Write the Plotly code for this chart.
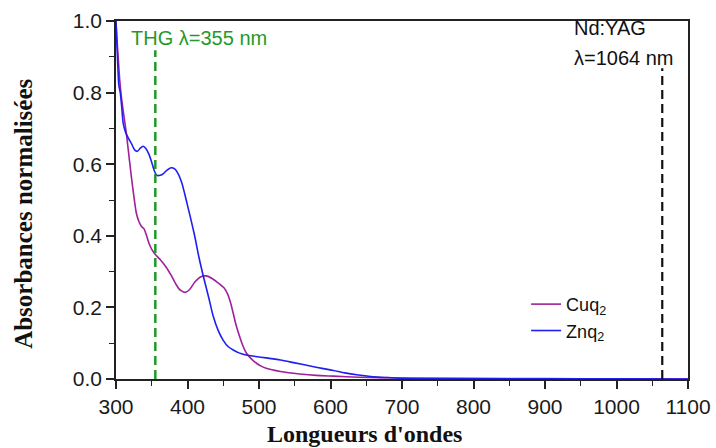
import plotly.graph_objects as go

# Znq2 absorption spectrum (normalised)
znq2_wl = [300, 302, 304, 306, 308, 310, 314, 318, 322, 326, 330, 334, 338, 342, 346, 350,
           353, 357, 362, 366, 371, 377, 382, 387, 392, 396, 400, 404, 410, 416, 423, 430,
           436, 443, 450, 457, 464, 472, 482, 495, 510, 530, 550, 570, 590, 604, 620, 639,
           660, 680, 700, 750, 800, 900, 1000, 1100]
znq2_abs = [1.0, 0.90, 0.82, 0.80, 0.76, 0.715, 0.686, 0.67, 0.656, 0.64, 0.636, 0.645, 0.65,
            0.643, 0.628, 0.605, 0.585, 0.569, 0.569, 0.573, 0.583, 0.590, 0.587, 0.573, 0.548,
            0.518, 0.485, 0.452, 0.40, 0.34, 0.28, 0.225, 0.175, 0.135, 0.108, 0.09, 0.081,
            0.073, 0.067, 0.063, 0.059, 0.053, 0.045, 0.037, 0.029, 0.024, 0.017, 0.011,
            0.006, 0.004, 0.002, 0.001, 0.001, 0.0005, 0.0005, 0.0]

# Cuq2 absorption spectrum (normalised)
cuq2_wl = [300, 301, 303, 305, 307.5, 310, 314.5, 318, 321.5, 325, 328.5, 332, 336, 339, 342,
           346, 350, 355, 362, 370, 377, 384, 390, 397, 403, 410, 418, 426, 435, 445, 451, 456,
           460, 464, 468, 473, 478, 482.5, 490, 496.5, 503, 510, 530, 557, 580, 604, 640, 700,
           800, 900, 1000, 1100]
cuq2_abs = [1.0, 0.96, 0.90, 0.84, 0.788, 0.75, 0.686, 0.625, 0.565, 0.51, 0.463, 0.44, 0.425,
            0.42, 0.405, 0.38, 0.362, 0.348, 0.333, 0.313, 0.29, 0.264, 0.248, 0.242, 0.25,
            0.27, 0.285, 0.288, 0.28, 0.265, 0.255, 0.238, 0.215, 0.183, 0.15, 0.118, 0.09,
            0.072, 0.055, 0.044, 0.036, 0.030, 0.021, 0.014, 0.010, 0.008, 0.005, 0.003,
            0.001, 0.001, 0.0005, 0.0]

# Laser wavelengths
thg_wl = 355
ndyag_wl = 1064

x_ticks = [300, 400, 500, 600, 700, 800, 900, 1000, 1100]
y_ticks = [0.0, 0.2, 0.4, 0.6, 0.8, 1.0]

x_title = "Longueurs d'ondes"
y_title = "Absorbances normalisées"

tick_font = dict(family="Liberation Sans, Arial", size=21, color="#1a1a1a")
title_font = dict(family="Liberation Serif, Times New Roman", size=24, color="#111111")
note_font = dict(family="Liberation Sans, Arial", size=20)

fig = go.Figure()
fig.add_trace(go.Scatter(x=cuq2_wl, y=cuq2_abs, mode="lines", name="Cuq<sub>2</sub>",
                         line=dict(color="#a0209a", width=1.6, shape="spline", smoothing=0.6)))
fig.add_trace(go.Scatter(x=znq2_wl, y=znq2_abs, mode="lines", name="Znq<sub>2</sub>",
                         line=dict(color="#1f1ff0", width=1.6, shape="spline", smoothing=0.6)))

fig.add_shape(type="line", x0=thg_wl, x1=thg_wl, y0=0, y1=0.918, xref="x", yref="y",
              line=dict(color="#1f9a2a", width=2.5, dash="9px,5px"))
fig.add_shape(type="line", x0=ndyag_wl, x1=ndyag_wl, y0=0, y1=0.868, xref="x", yref="y",
              line=dict(color="#111111", width=2.2, dash="9px,5px"))

fig.add_annotation(x=318, y=0.952, xref="x", yref="y", text="THG λ=355 nm", showarrow=False,
                   xanchor="left", yanchor="middle", font=dict(note_font, color="#1f9a2a"))
fig.add_annotation(x=938, y=0.98, xref="x", yref="y", text="Nd:YAG", showarrow=False,
                   xanchor="left", yanchor="middle", font=dict(note_font, color="#111111"))
fig.add_annotation(x=938, y=0.898, xref="x", yref="y", text="λ=1064 nm", showarrow=False,
                   xanchor="left", yanchor="middle", font=dict(note_font, color="#111111"))

# axis titles
fig.add_annotation(x=0.435, y=-0.153, xref="paper", yref="paper", text="<b>" + x_title + "</b>",
                   showarrow=False, xanchor="center", yanchor="middle", font=title_font)
fig.add_annotation(x=-0.161, y=0.461, xref="paper", yref="paper", text="<b>" + y_title + "</b>",
                   showarrow=False, xanchor="center", yanchor="middle", textangle=-90,
                   font=dict(title_font, size=25))

fig.update_xaxes(range=[300, 1100], tickvals=x_ticks, ticks="outside", ticklen=8, tickwidth=1.5,
                 tickcolor="#222", showline=True, linecolor="#222", linewidth=1.5, mirror=True,
                 showgrid=False, zeroline=False, tickfont=tick_font,
                 minor=dict(ticks="outside", ticklen=5, tickwidth=1.2, tickcolor="#222", dtick=50,
                            showgrid=False),
                 automargin=False)
fig.update_yaxes(range=[0, 1.0], tickvals=y_ticks, tickformat=".1f", ticks="outside", ticklen=8,
                 tickwidth=1.5, tickcolor="#222", showline=True, linecolor="#222", linewidth=1.5,
                 mirror=True, showgrid=False, zeroline=False, tickfont=tick_font,
                 minor=dict(ticks="outside", ticklen=5, tickwidth=1.2, tickcolor="#222", dtick=0.1,
                            showgrid=False),
                 automargin=False)

fig.update_layout(
    width=716, height=448,
    margin=dict(l=116, r=28, t=21, b=69),
    paper_bgcolor="white", plot_bgcolor="white",
    showlegend=True,
    legend=dict(x=0.717, y=0.26, xanchor="left", yanchor="top", bgcolor="rgba(0,0,0,0)",
                font=dict(family="Liberation Sans, Arial", size=18, color="#111111"),
                tracegroupgap=0, itemwidth=30),
)

fig.write_html("out.html")
